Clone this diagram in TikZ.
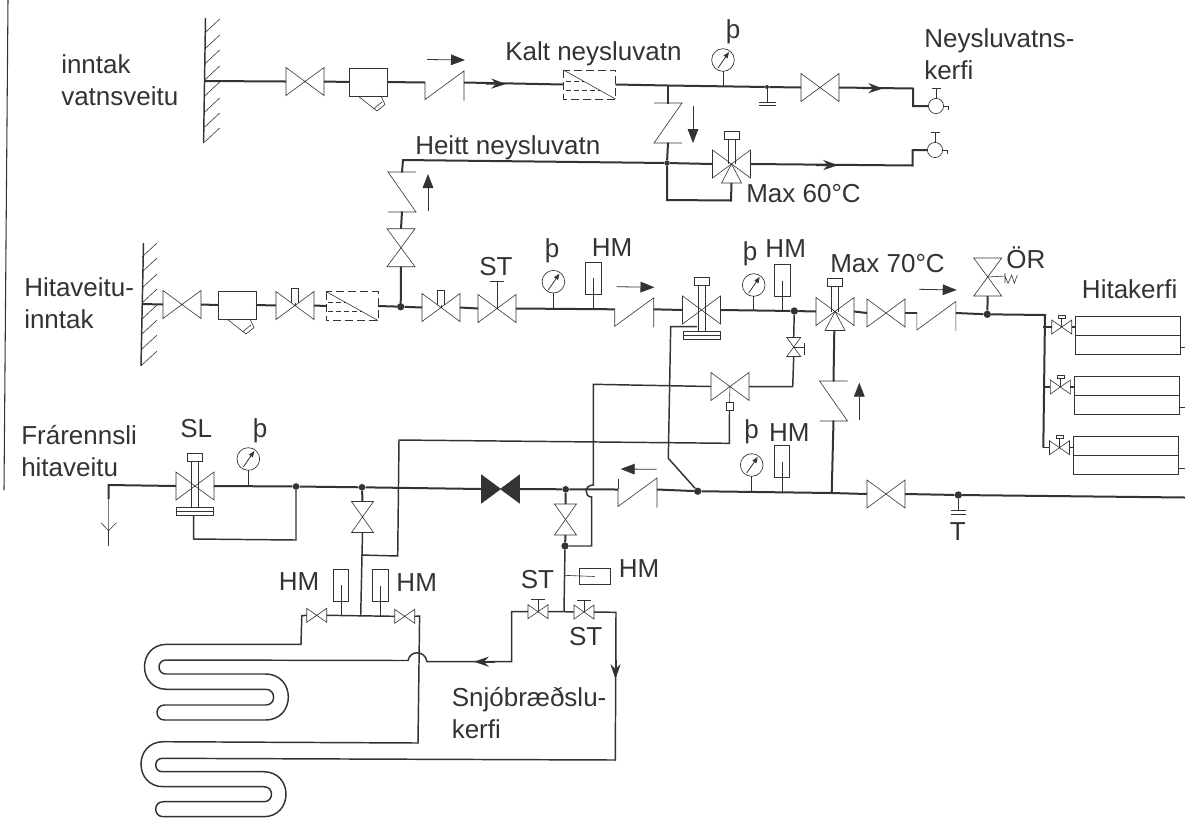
\documentclass[tikz,border=0pt]{standalone}
\usepackage{fontspec}
\setmainfont{Liberation Sans}
\usetikzlibrary{arrows.meta}
\definecolor{ink}{HTML}{333333}
\tikzset{
  pipe/.style={line width=1.5pt,draw=ink},
  pipelight/.style={line width=1.1pt,draw=ink},
  sym/.style={line width=0.45pt,draw=ink},
  port/.style={inner sep=0pt,outer sep=0pt},
  bigv/.style={minimum width=28.5pt,minimum height=21pt},
  smallv/.style={minimum width=15pt,minimum height=10.5pt},
  tallv/.style={minimum width=21pt,minimum height=28.5pt},
  midv/.style={minimum width=16.5pt,minimum height=23.25pt},
  tinyv/.style={minimum width=10.5pt,minimum height=14.25pt},
  jdot/.style={circle,fill=ink,inner sep=0pt,minimum size=5.5pt},
  lbl/.style={anchor=base west,inner sep=0pt,text=ink,align=left,font=\fontsize{19.5}{24}\selectfont},
  lblc/.style={lbl,anchor=base},
  flowmark/.style={sym,line width=0.6pt,-{Triangle[length=10.5pt,width=8pt]}},
  pipeflow/.style={pipe,-{Stealth[length=11pt,width=7.5pt,inset=3.5pt]}},
}
\newcommand{\valveh}[4][]{\node[port,#4] (#2) at #3 {};
  \draw[sym,#1] (#2.north west) -- (#2.south east) -- (#2.north east) -- (#2.south west) -- cycle;}
\newcommand{\valvev}[3]{\node[port,#3] (#1) at #2 {};
  \draw[sym] (#1.north west) -- (#1.south east) -- (#1.south west) -- (#1.north east) -- cycle;}
\newcommand{\checkh}[2]{\node[port,minimum width=29.25pt,minimum height=1pt] (#1) at #2 {};
  \draw[sym,shift={(#1.center)}] (-19.5,-1) -- (-19.5,17) -- (19.5,-11.5) -- (19.5,18);}
\newcommand{\checkv}[3][]{\node[port,minimum width=1pt,minimum height=29.25pt] (#2) at #3 {};
  \draw[sym,shift={(#2.center)},#1] (-14,-20) -- (14,-20) -- (-14,20) -- (14,20);}
\newcommand{\strainerbox}[2]{\node[port,draw=ink,line width=0.45pt,minimum width=28.5pt,minimum height=21pt] (#1) at #2 {};
  \draw[sym,shift={(#1.center)}] (-10,14) -- (9,29) -- (17,22.5) -- (13,14) (6,26.5) -- (14,20);}
\newcommand{\filterbox}[2]{\node[port,minimum width=39pt,minimum height=21.75pt] (#1) at #2 {};
  \draw[sym,dashed,dash pattern=on 6pt off 3pt] (#1.north west) rectangle (#1.south east);
  \draw[sym] (#1.north west) -- (#1.south east);
  \draw[sym,dashed,dash pattern=on 4pt off 2pt,shift={(#1.center)}] (-24,-3.5) -- (-6,-3.5) (-24,5.5) -- (10,5.5);}
\newcommand{\gaugedial}[3]{\node[port,circle,draw=ink,line width=0.5pt,fill=white,minimum size=17pt] (#1) at #2 {};
  \draw[sym,line width=0.6pt,-{Triangle[length=4.5pt,width=3.5pt]},shift={(#1.center)}] (-5,8) -- (6,-8);
  \draw[sym] (#1.south) -- ++(0,#3);}
\newcommand{\hmbox}[3]{\node[port,draw=ink,line width=0.45pt,minimum width=11.6pt,minimum height=24pt] (#1) at #2 {};
  \draw[sym] (#1.center) -- ++(0,#3);}
\newcommand{\tapend}[2]{\node[port,circle,draw=ink,line width=0.5pt,minimum size=11.4pt] (#1) at #2 {};
  \draw[sym] (#1.north) -- ++(0,-10) ++(-4.5,0) -- ++(9,0);
  \draw[sym] (#1.east) -- ++(5,0) -- ++(0,4);}
\newcommand{\actuatortop}[1]{\draw[sym,shift={(#1.center)}] (-7.5,-33) rectangle (7.5,-25) (-3.5,-25) -- (-3.5,0) (3.5,-25) -- (3.5,0);}
\newcommand{\threewaypart}[1]{\draw[sym,shift={(#1.center)}] (0,0) -- (-10,19) -- (10,19) -- cycle;}
\newcommand{\diaphragmbase}[1]{\draw[sym,shift={(#1.center)}] (-3.5,0) -- (-3.5,21) (3.5,0) -- (3.5,21) (-18.5,21) rectangle (18.5,29) (-18.5,25) -- (18.5,25);}
\newcommand{\stemhandle}[1]{\draw[sym,shift={(#1.center)}] (0,0) -- (0,-12) (-7,-12) -- (7,-12);}
\newcommand{\stubbox}[1]{\draw[sym,shift={(#1.center)}] (0,0) -- (0,-3) (-3.75,-3) -- (-3.75,-17.5) -- (3.75,-17.5) -- (3.75,-3);}
\newcommand{\knobhandle}[1]{\draw[sym,shift={(#1.center)}] (0,0) -- (0,-9) (-3.5,-12) rectangle (3.5,-9);}

\begin{document}
\begin{tikzpicture}[x=0.75pt,y=-0.75pt]
\useasboundingbox (0,0) rectangle (1185,819);
\draw[sym,line width=0.8pt] (8,0) -- (4,490);

\draw[pipelight] (205.5,18) -- (203.6,143);
\foreach \y in {33,49,64,80,96,112,127,142}
\draw[sym] (204.7,\y) -- ++(15,-14);
\draw[pipelight] (143.5,243) -- (141,366);
\foreach \y in {257,272,288,303,319,334,349,365}
\draw[sym] (142,\y) -- ++(15,-14);

% cold water line
\coordinate (wall1) at (204.7,81);
\valveh{v1}{(305,81.5)}{bigv}
\strainerbox{sb1}{(368,82)}
\checkh{ck1}{(444.5,82.5)}
\filterbox{fl1}{(589.5,84.5)}
\coordinate (tee1) at (668,85.5);
\gaugedial{g1}{(723,60)}{15}
\node[jdot,minimum size=3pt] (dr1) at (767,87) {};
\valveh{v2}{(820,87.5)}{bigv}
\coordinate (c1) at (913,88.5);
\coordinate (c2) at (913,106);
\tapend{tap1}{(936,106)}
\draw[pipe] (wall1) -- (v1.west);
\draw[pipe] (v1.east) -- (sb1.west);
\draw[pipe] (sb1.east) -- (ck1.west);
\draw[pipe] (ck1.east) -- (fl1.west);
\draw[pipe] (fl1.east) -- (tee1) -- (dr1) -- (v2.west);
\draw[pipe] (v2.east) -- (c1) -- (c2) -- (tap1.west);
\draw[pipeflow] (486,83.5) -- (506,84);
\draw[pipeflow] (862,88) -- (883,88.5);
\draw[sym] (dr1.center) -- (767,102.7) (758.5,102.7) -- (776,102.7) (758.5,105) -- (776,105);
\draw[flowmark] (427,59.5) -- (465,60);

% hot water line
\checkv{ck5}{(668,123)}
\node[jdot,minimum size=4pt] (d0) at (667,163) {};
\valveh{tw1}{(731.5,164)}{bigv}
\threewaypart{tw1}
\actuatortop{tw1}
\coordinate (c3) at (912.5,165.5);
\coordinate (c4) at (912.5,150);
\tapend{tap2}{(935,150)}
\coordinate (c5) at (667,200);
\coordinate (c6) at (731,200.5);
\draw[pipe] (tee1) -- (ck5.north);
\draw[pipe] (ck5.south) -- (d0);
\draw[pipe] (d0) -- (tw1.west);
\draw[pipe] (tw1.east) -- (c3) -- (c4) -- (tap2.west);
\draw[pipeflow] (816,165) -- (838,165.2);
\draw[pipe] (d0) -- (c5) -- (c6) -- (tw1.center |- 0,183);
\draw[flowmark] (693,106) -- (693,143);

% riser
\checkv[xscale=-1]{ck6}{(402,192)}
\valvev{v10}{(401,247.7)}{tallv}
\coordinate (c7) at (403,160);
\draw[pipe] (d0) -- (c7) -- (ck6.north);
\draw[pipe] (ck6.south) -- (v10.north);
\draw[flowmark] (428,211) -- (428,174);

% district heating inlet
\coordinate (wall2) at (142,304);
\valveh{v3}{(182,304.5)}{bigv}
\strainerbox{sb2}{(237,305)}
\valveh{v4}{(295,305.5)}{bigv}
\stubbox{v4}
\filterbox{fl2}{(352,306)}
\node[jdot] (d2) at (400.7,306.7) {};
\valveh{v5}{(441,307.5)}{bigv}
\stubbox{v5}
\valveh{st1}{(497,308.5)}{bigv}
\draw[sym,shift={(st1.center)}] (0,0) -- (0,-27) (-7,-27) -- (7,-27);
\gaugedial{g2}{(553.4,281.7)}{15}
\hmbox{hm1}{(593.2,278)}{31}
\checkh{ck2}{(634.2,309.3)}
\valveh{v6}{(701.5,310)}{bigv}
\actuatortop{v6}
\diaphragmbase{v6}
\gaugedial{g3}{(753.7,285)}{14}
\hmbox{hm2}{(782.3,280.5)}{30.5}
\node[jdot] (d3) at (794.3,311) {};
\valveh{tw2}{(835,311.5)}{bigv}
\threewaypart{tw2}
\actuatortop{tw2}
\valveh{v7}{(886,313)}{bigv}
\checkh{ck3}{(936.3,313)}
\node[jdot] (d4) at (987.3,314.3) {};
\coordinate (c8) at (1045,315);
\coordinate (c9) at (1043.3,447.5);
\draw[pipe] (wall2) -- (v3.west);
\draw[pipe] (v3.east) -- (sb2.west);
\draw[pipe] (sb2.east) -- (v4.west);
\draw[pipe] (v4.east) -- (fl2.west);
\draw[pipe] (fl2.east) -- (d2);
\draw[pipe] (d2) -- (v5.west);
\draw[pipe] (v5.east) -- (st1.west);
\draw[pipe] (st1.east) -- (ck2.west);
\draw[pipe] (ck2.east) -- (v6.west);
\draw[pipe] (v6.east) -- (d3);
\draw[pipe] (d3) -- (tw2.west);
\draw[pipe] (tw2.east) -- (v7.west);
\draw[pipe] (v7.east) -- (ck3.west);
\draw[pipe] (ck3.east) -- (d4);
\draw[pipe] (d4) -- (c8) -- (c9);
\draw[pipe] (d2) -- (v10.south);
\draw[flowmark] (616.5,286.7) -- (654.5,287.3);
\draw[flowmark] (919,289.3) -- (956.7,290);

% relief valve
\valvev{or1}{(987.7,277)}{tallv}
\draw[pipe] (or1.south) -- (d4);
\draw[sym] (or1.center) -- (1005,276) (1005,273) -- (1005,283) (1005,276) -- (1008,283.3) -- (1011.7,275) -- (1014.3,283.3) -- (1017.3,275);

% radiators
\node[port,draw=ink,line width=0.5pt,minimum width=78.75pt,minimum height=28.5pt] (rad1) at (1127.5,335) {};
\node[port,draw=ink,line width=0.5pt,minimum width=78.75pt,minimum height=28.5pt] (rad2) at (1126.7,395) {};
\node[port,draw=ink,line width=0.5pt,minimum width=78.75pt,minimum height=28.5pt] (rad3) at (1125.8,455.5) {};
\valveh{rv1}{(1061.7,327)}{smallv}
\valveh{rv2}{(1060.4,387)}{smallv}
\valveh{rv3}{(1059.5,447.7)}{smallv}
\knobhandle{rv1}
\knobhandle{rv2}
\knobhandle{rv3}
\coordinate (r1o) at (1185,347.3);
\coordinate (r2o) at (1185,407.7);
\coordinate (r3o) at (1185,468.3);
\foreach \r in {1,2,3}{
\draw[pipelight] (rv\r.east) -- (rv\r.east -| rad\r.west);
\draw[pipelight] (r\r o -| rad\r.east) -- (r\r o);
\draw[sym] (rad\r.west) -- (rad\r.east);
\draw[pipelight] (rv\r.west -| c9) -- (rv\r.west);
}

% control valve and branches
\valvev{v11}{(793.7,347)}{tinyv}
\draw[sym,shift={(v11.center)}] (0,0) -- (10.5,0) (10.5,-4) -- (10.5,8);
\valveh{v9}{(730,386.5)}{bigv}
\node[port,draw=ink,line width=0.45pt,minimum width=5.5pt,minimum height=6.3pt] (sn1) at (729.5,406.5) {};
\coordinate (c10) at (792.7,386.7);
\coordinate (c11) at (593.3,384.3);
\coordinate (c12) at (593.3,485);
\coordinate (c13) at (591.7,497);
\coordinate (c14) at (591.7,546);
\node[jdot] (d11) at (565,546) {};
\draw[pipelight] (d3) -- (v11.north);
\draw[pipelight] (v11.south) -- (c10) -- (v9.east);
\draw[pipelight] (v9.west) -- (c11) -- (c12) .. controls (584,485) and (584,497) .. (c13) -- (c14) -- (d11);
\draw[sym] (v9.center) -- (sn1.north);
\coordinate (c15) at (729.3,443.3);
\coordinate (c16) at (399,440);
\coordinate (c17) at (397.7,556);
\coordinate (c18) at (361.2,555);
\draw[pipelight] (sn1.south) -- (c15) -- (c16) -- (c17) -- (c18);

% return line
\coordinate (y1) at (108.6,499);
\node[port] (drn) at (108.6,530.7) {};
\coordinate (c19) at (108.6,485);
\valveh{v12}{(195,486)}{bigv}
\actuatortop{v12}
\diaphragmbase{v12}
\gaugedial{g4}{(248.3,459)}{15.5}
\node[jdot,minimum size=5pt] (d5) at (296,486.5) {};
\node[jdot,minimum size=5pt] (d6) at (362,487.3) {};
\valveh[fill=ink]{v13}{(500.5,489)}{bigv}
\node[jdot,minimum size=5pt] (d7) at (565.7,489.3) {};
\checkh{ck4}{(637.5,489.5)}
\draw[sym,shift={(ck4.center)}] (-19.5,-11) -- (-19.5,-1);
\node[jdot] (d8) at (697.7,491.2) {};
\gaugedial{g5}{(751.7,465)}{15}
\hmbox{hm3}{(782,461.7)}{31}
\coordinate (j1) at (831.7,493);
\valveh{v8}{(886,494)}{bigv}
\node[jdot] (d10) at (958.3,495) {};
\coordinate (e1) at (1185,497.5);
\coordinate (c20) at (193.6,539);
\coordinate (c21) at (296,540);
\draw[pipe] (y1) -- (c19) -- (v12.west);
\draw[pipe] (v12.east) -- (d5);
\draw[pipe] (d5) -- (d6);
\draw[pipe] (d6) -- (v13.west);
\draw[pipe] (v13.east) -- (d7);
\draw[pipe] (d7) -- (ck4.west);
\draw[pipe] (ck4.east) -- (d8);
\draw[pipe] (d8) -- (j1) -- (v8.west);
\draw[pipe] (v8.east) -- (d10);
\draw[pipe] (d10) -- (e1);
\draw[sym] (y1) -- (drn.center) (101,522.7) -- (drn.center) -- (116.6,522.7);
\draw[sym] (drn.center) -- (108.6,546);
\draw[pipelight] (193.6,515) -- (c20) -- (c21) -- (d5);
\draw[flowmark] (656.7,469.3) -- (620.7,469);
\draw[sym] (d10) -- (958.3,510.7) (950.7,510.7) -- (966,510.7) (950.7,514.7) -- (966,514.7);

% non-return to second three-way
\checkv[xscale=-1]{ck7}{(833.5,401)}
\coordinate (tw2b) at (834.3,330.5);
\draw[pipe] (tw2b) -- (ck7.north);
\draw[pipe] (ck7.south) -- (j1);
\draw[flowmark] (859.3,420) -- (859.3,382.7);
\coordinate (c22) at (670.7,326.7);
\coordinate (c23) at (668.3,458.3);
\coordinate (c24) at (697,326.7);
\draw[pipelight] (c24) -- (c22) -- (c23) -- (d8);

% snow melting manifold
\valvev{v14}{(362.5,517)}{midv}
\valvev{v15}{(565.5,519.5)}{midv}
\coordinate (m1) at (360.7,615.8);
\coordinate (m2) at (564,611.7);
\draw[pipe] (d6) -- (v14.north);
\draw[pipelight] (v14.south) -- (m1);
\draw[pipe] (d7) -- (v15.north);
\draw[pipe] (v15.south) -- (d11);
\draw[pipelight] (d11) -- (m2);
\hmbox{hm4}{(341,585)}{30.5}
\hmbox{hm5}{(380.5,585.7)}{30.5}
\valveh{rv4}{(316.7,615.3)}{smallv}
\valveh{rv5}{(404.7,616.3)}{smallv}
\valveh{st2}{(538,611.7)}{smallv}
\stemhandle{st2}
\valveh{st3}{(584,612)}{smallv}
\stemhandle{st3}
\node[port,draw=ink,line width=0.45pt,minimum width=23pt,minimum height=11.7pt] (hm6) at (594.6,576.5) {};
\coordinate (t1) at (564,575.3);
\draw[sym] (t1) -- (hm6.center);
\draw[pipelight] (rv4.east) -- (m1) -- (rv5.west);
\draw[pipelight] (st2.east) -- (m2) -- (st3.west);

% coils
\coordinate (s1) at (301.8,615.7);
\coordinate (s2) at (301,644.3);
\coordinate (s3) at (419.6,616);
\coordinate (s4) at (418,743);
\coordinate (s5) at (511.7,611.5);
\coordinate (s6) at (511.7,661.7);
\coordinate (s7) at (616,612.3);
\coordinate (s8) at (615.3,760);
\draw[pipelight] (rv4.west) -- (s1) -- (s2) -- (167,644.3) .. controls (137,644.3) and (137,689.3) .. (167,689.3)
  -- (265.8,689.3) .. controls (276.2,689.3) and (276.2,705) .. (265.8,705)
  -- (164.5,705) .. controls (154.5,705) and (154.5,720) .. (164.5,720)
  -- (265.3,720) .. controls (296,720) and (296,674) .. (265.3,674)
  -- (166,674) .. controls (156.7,674) and (156.7,660) .. (166,660)
  -- (408,660.5) .. controls (410,650) and (425,650) .. (427,661.7) -- (s6) -- (s5) -- (st2.west);
\draw[pipelight] (rv5.east) -- (s3) -- (s4) -- (163.5,741.7) .. controls (133.5,741.7) and (133.5,786.7) .. (163.5,786.7)
  -- (264,786.7) .. controls (274,786.7) and (274,801.7) .. (264,801.7)
  -- (163.2,801.7) .. controls (153.2,801.7) and (153.2,816.7) .. (163.2,816.7)
  -- (263.5,816.7) .. controls (293.5,816.7) and (293.5,771.7) .. (263.5,771.7)
  -- (162.4,771.7) .. controls (153.5,771.7) and (153.5,758.3) .. (162.4,758.3)
  -- (s8) -- (s7) -- (st3.east);
\draw[pipeflow] (495,661.7) -- (474,661.7);
\draw[pipeflow] (615.5,660) -- (615.5,679);

% labels
\node[lbl] (t_inn) at (61,105) {inntak\\vatnsveitu};
\node[lbl] (t_kalt) at (505,60) {Kalt neysluvatn};
\node[lblc] (t_p1) at (733,38) {þ};
\node[lbl] (t_ney) at (924,79) {Neysluvatns-\\kerfi};
\node[lbl] (t_heitt) at (415,154) {Heitt neysluvatn};
\node[lbl] (t_m60) at (746,202) {Max 60°C};
\node[lbl] (t_hit) at (24,328) {Hitaveitu-\\inntak};
\node[lblc] (t_st1) at (496,275) {ST};
\node[lblc] (t_p2) at (552,257) {þ};
\node[lblc] (t_hm1) at (612,256) {HM};
\node[lblc] (t_p3) at (750,260) {þ};
\node[lblc] (t_hm2) at (785.7,257) {HM};
\node[lbl] (t_m70) at (830,272) {Max 70°C};
\node[lbl] (t_or) at (1006,268) {ÖR};
\node[lbl] (t_hk) at (1081.7,298) {Hitakerfi};
\node[lbl] (t_fra) at (21,476) {Frárennsli\\hitaveitu};
\node[lblc] (t_sl) at (196.3,437) {SL};
\node[lblc] (t_p4) at (260,437) {þ};
\node[lblc] (t_p5) at (751.7,438) {þ};
\node[lblc] (t_hm3) at (789.3,441) {HM};
\node[lblc] (t_t) at (957.7,540) {T};
\node[lblc] (t_hm4) at (299,590) {HM};
\node[lblc] (t_hm5) at (416.7,591.7) {HM};
\node[lblc] (t_st2) at (537.5,588) {ST};
\node[lblc] (t_hm6) at (639,577.3) {HM};
\node[lblc] (t_st3) at (585.7,645) {ST};
\node[lbl] (t_snj) at (451.5,738) {Snjóbræðslu-\\kerfi};
\end{tikzpicture}
\end{document}
